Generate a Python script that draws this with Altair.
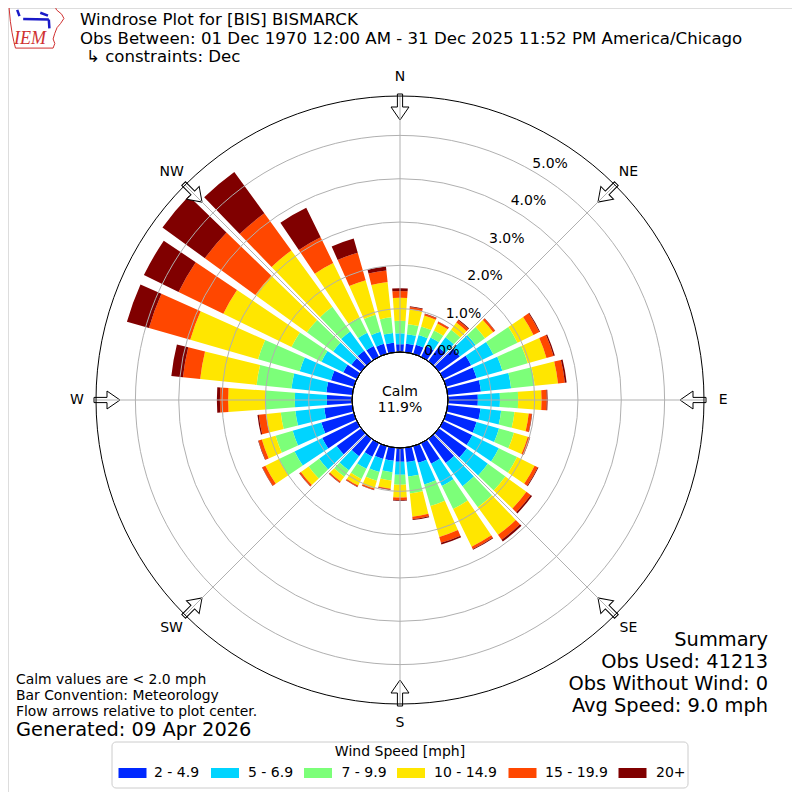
import math
import altair as alt
import pandas as pd

# ---------------- data (percent of observations) ----------------
directions = list(range(0, 360, 10))
speed_bins = ["2 - 4.9", "5 - 6.9", "7 - 9.9", "10 - 14.9", "15 - 19.9", "20+"]
bin_colors = ["#0028ff", "#00d4ff", "#7cff79", "#ffe600", "#ff4700", "#800000"]

spd_2_5 = [0.18, 0.20, 0.22, 0.28, 0.40, 0.60, 0.72, 0.73, 0.77, 0.69, 0.76, 0.73,
           0.75, 0.80, 0.69, 0.53, 0.40, 0.33, 0.32, 0.30, 0.31, 0.35, 0.50, 0.70,
           0.89, 0.78, 0.65, 0.58, 0.60, 0.55, 0.35, 0.28, 0.30, 0.28, 0.24, 0.22]
spd_5_7 = [0.25, 0.22, 0.23, 0.22, 0.28, 0.45, 0.57, 0.62, 0.70, 0.51, 0.48, 0.54,
           0.68, 0.60, 0.66, 0.57, 0.52, 0.34, 0.30, 0.27, 0.31, 0.31, 0.40, 0.50,
           0.71, 0.69, 0.67, 0.74, 0.81, 0.75, 0.56, 0.52, 0.55, 0.34, 0.29, 0.23]
spd_7_10 = [0.29, 0.23, 0.21, 0.18, 0.22, 0.27, 0.62, 0.61, 0.55, 0.42, 0.31, 0.36,
            0.47, 0.50, 0.60, 0.59, 0.52, 0.39, 0.23, 0.19, 0.21, 0.26, 0.18, 0.30,
            0.40, 0.41, 0.34, 0.68, 0.81, 1.00, 0.77, 0.75, 0.70, 0.40, 0.41, 0.36]
spd_10_15 = [0.53, 0.35, 0.26, 0.18, 0.20, 0.23, 0.41, 0.45, 0.54, 0.54, 0.33, 0.33,
             0.45, 0.60, 0.79, 0.97, 0.74, 0.54, 0.29, 0.19, 0.19, 0.17, 0.14, 0.22,
             0.35, 0.33, 0.34, 0.86, 1.31, 1.63, 1.75, 1.47, 1.61, 1.39, 0.83, 0.82]
spd_15_20 = [0.16, 0.05, 0.04, 0.04, 0.07, 0.05, 0.15, 0.17, 0.16, 0.12, 0.07, 0.05,
             0.08, 0.12, 0.14, 0.06, 0.14, 0.06, 0.06, 0.02, 0.03, 0.03, 0.03, 0.04,
             0.08, 0.08, 0.17, 0.19, 0.40, 0.99, 1.15, 1.44, 1.06, 0.66, 0.66, 0.27]
spd_20_up = [0.06, 0.02, 0.01, 0.01, 0.02, 0.01, 0.02, 0.03, 0.04, 0.02, 0.01, 0.01,
             0.02, 0.04, 0.05, 0.02, 0.04, 0.02, 0.02, 0.01, 0.01, 0.01, 0.01, 0.01,
             0.01, 0.01, 0.03, 0.07, 0.27, 0.53, 0.89, 1.21, 1.18, 0.76, 0.34, 0.09]
series = [spd_2_5, spd_5_7, spd_7_10, spd_10_15, spd_15_20, spd_20_up]

ring_values = [0, 1, 2, 3, 4, 5]
compass_deg = [0, 45, 90, 135, 180, 225, 270, 315]
compass_labels = ["N", "NE", "E", "SE", "S", "SW", "W", "NW"]
calm_pct = 11.9

title_lines = ["Windrose Plot for [BIS] BISMARCK",
               "Obs Between: 01 Dec 1970 12:00 AM - 31 Dec 2025 11:52 PM America/Chicago",
               "\u21b3 constraints: Dec"]
summary_lines = ["Summary", "Obs Used: 41213", "Obs Without Wind: 0", "Avg Speed: 9.0 mph"]
note_lines = ["Calm values are < 2.0 mph", "Bar Convention: Meteorology",
              "Flow arrows relative to plot center."]
generated_line = "Generated: 09 Apr 2026"
legend_title = "Wind Speed [mph]"

# ---------------- layout ----------------
W = H = 784
FONT = "DejaVu Sans"
R0, R1 = 48.0, 304.0        # pixel radius of 0 % and of the frame
RMAX = 5.91                 # percent value at the frame
HALF = 4.0                  # half bar opening, degrees
LABEL_R = 6.35
ARROW_R = 293.0
ARROW = "M -0.2 -1 L 0.2 -1 L 0.2 0 L 0.69 0 L 0 1 L -0.69 0 L -0.2 0 Z"

theta_scale = alt.Scale(domain=[0, 360], range=[0, 2 * math.pi])
r_scale = alt.Scale(type="linear", domain=[0, RMAX], range=[R0, R1], zero=False, nice=False)
px_x = alt.Scale(domain=[-W / 2, W / 2], range=[0, W])
px_y = alt.Scale(domain=[-H / 2, H / 2], range=[0, H])

rows = []
for i, d in enumerate(directions):
    cum = 0.0
    for j, s in enumerate(series):
        v = s[i]
        rows.append({"dir": d, "bin": speed_bins[j], "r0": cum, "r1": cum + v,
                     "t0": d - HALF, "t1": d + HALF})
        cum += v
bars_df = pd.DataFrame(rows)

bars = alt.Chart(bars_df).mark_arc().encode(
    theta=alt.Theta("t0:Q", scale=theta_scale, stack=False),
    theta2="t1:Q",
    radius=alt.Radius("r1:Q", scale=r_scale),
    radius2="r0:Q",
    color=alt.Color("bin:N", scale=alt.Scale(domain=speed_bins, range=bin_colors), legend=None),
)


def circle(values, stroke, fill_opacity=0.0, fill="white"):
    df = pd.DataFrame({"r": values, "a0": [0] * len(values), "a1": [360] * len(values)})
    return alt.Chart(df).mark_arc(fill=fill, fillOpacity=fill_opacity, stroke=stroke,
                                  strokeWidth=1).encode(
        theta=alt.Theta("a0:Q", scale=theta_scale, stack=False),
        theta2="a1:Q",
        radius=alt.Radius("r:Q", scale=r_scale),
    )


rings = circle(ring_values[1:], "#b0b0b0")
frame = circle([RMAX], "black")
calm_circle = circle([0], "black", fill_opacity=1.0)

grid_df = pd.DataFrame({
    "x0": [R0 * math.sin(math.radians(d)) for d in compass_deg],
    "y0": [-R0 * math.cos(math.radians(d)) for d in compass_deg],
    "x1": [R1 * math.sin(math.radians(d)) for d in compass_deg],
    "y1": [-R1 * math.cos(math.radians(d)) for d in compass_deg],
})
grid = alt.Chart(grid_df).mark_rule(color="#b0b0b0", strokeWidth=1).encode(
    x=alt.X("x0:Q", scale=px_x, axis=None), y=alt.Y("y0:Q", scale=px_y, axis=None),
    x2="x1:Q", y2="y1:Q",
)

arrow_df = pd.DataFrame({
    "deg": compass_deg,
    "x": [ARROW_R * math.sin(math.radians(d)) for d in compass_deg],
    "y": [-ARROW_R * math.cos(math.radians(d)) for d in compass_deg],
})
arrows = alt.Chart(arrow_df).mark_point(shape=ARROW, size=676, filled=True, fill="white",
                                        stroke="black", strokeWidth=1, opacity=1).encode(
    x=alt.X("x:Q", scale=px_x, axis=None), y=alt.Y("y:Q", scale=px_y, axis=None),
    angle=alt.Angle("deg:Q", scale=alt.Scale(domain=[0, 360], range=[0, 360])),
)

compass_df = pd.DataFrame({"deg": compass_deg, "lab": compass_labels,
                           "rl": [LABEL_R] * len(compass_deg)})
compass_text = alt.Chart(compass_df).mark_text(font=FONT, fontSize=14, color="black",
                                               align="center", baseline="middle").encode(
    theta=alt.Theta("deg:Q", scale=theta_scale, stack=False),
    radius=alt.Radius("rl:Q", scale=r_scale),
    text="lab:N",
)

ring_df = pd.DataFrame({"v": ring_values, "a": [30] * len(ring_values),
                        "lab": [f"{v:.1f}%" for v in ring_values]})
ring_text = alt.Chart(ring_df).mark_text(font=FONT, fontSize=14, color="black",
                                         align="left", baseline="bottom").encode(
    theta=alt.Theta("a:Q", scale=theta_scale, stack=False),
    radius=alt.Radius("v:Q", scale=r_scale),
    text="lab:N",
)


def label(text, x, y, size, align="left", color="black", font=FONT, style="normal"):
    return alt.Chart(pd.DataFrame({"t": [text]})).mark_text(
        font=font, fontSize=size, color=color, align=align, baseline="middle",
        fontStyle=style).encode(text="t:N", x=alt.value(x - 8), y=alt.value(y - 8))


def box(x0, y0, x1, y1, **kw):
    return alt.Chart(pd.DataFrame({"k": [0]})).mark_rect(**kw).encode(
        x=alt.value(x0 - 8), x2=alt.value(x1 - 8), y=alt.value(y0 - 8), y2=alt.value(y1 - 8))


layers = []

# logo
IOWA = ("M -0.95 -0.74 L 0.66 -0.74 L 0.72 -0.6 L 0.9 -0.45 L 0.98 -0.3 L 0.86 -0.12 "
        "L 0.74 0.02 L 0.66 0.22 L 0.6 0.42 L 0.66 0.58 L 0.6 0.74 L -0.72 0.74 L -0.78 0.5 "
        "L -0.84 0.2 L -0.9 -0.2 Z")
BLUE = ("M -0.45 -0.28 L 0.45 -0.26 M -0.66 -0.6 L -0.58 -0.38 M 0.15 -0.5 L 0.42 -0.4 "
        "M 0.45 -0.26 L 0.47 0.05")
logo_df = pd.DataFrame({"x": [36 - 400], "y": [27 - 400]})
layers.append(alt.Chart(logo_df).mark_point(shape=IOWA, size=3249, color="#d03030",
                                            strokeWidth=1, opacity=1).encode(
    x=alt.X("x:Q", scale=px_x, axis=None), y=alt.Y("y:Q", scale=px_y, axis=None)))
layers.append(alt.Chart(logo_df).mark_point(shape=BLUE, size=3249, color="#1a1ac8",
                                            strokeWidth=2.5, opacity=1).encode(
    x=alt.X("x:Q", scale=px_x, axis=None), y=alt.Y("y:Q", scale=px_y, axis=None)))
layers.append(label("IEM", 30, 39, 18, align="center", color="#d03030",
                    font="Liberation Serif", style="italic"))

layers += [bars, arrows, rings, grid, frame, calm_circle, compass_text, ring_text]
layers.append(label("Calm", 400, 392, 14, align="center"))
layers.append(label(f"{calm_pct}%", 400, 408, 14, align="center"))

# titles
layers.append(label(title_lines[0], 80, 20, 16.6))
layers.append(label(title_lines[1], 80, 38.5, 16.6))
layers.append(label(title_lines[2], 86, 57, 16.6))

# summary
for k, t in enumerate(summary_lines):
    layers.append(label(t, 768, 640 + 22 * k, 19.4, align="right"))

# notes
for k, t in enumerate(note_lines):
    layers.append(label(t, 16, 680 + 16 * k, 13.9))
layers.append(label(generated_line, 16, 730, 19.4))

# legend
layers.append(box(112, 742, 688, 788, fill="white", stroke="#cccccc", strokeWidth=1,
                  cornerRadius=4))
layers.append(label(legend_title, 400, 752, 14, align="center"))
patch_x = [118.5, 211, 304, 397, 508.5, 618.5]
text_x = [154, 248, 341.5, 434, 545, 656]
for k in range(len(speed_bins)):
    layers.append(box(patch_x[k], 768, patch_x[k] + 28, 778, fill=bin_colors[k]))
    layers.append(label(speed_bins[k], text_x[k], 773, 14))

chart = alt.layer(*layers).properties(
    width=W, height=H, autosize=alt.AutoSizeParams(type="none"), padding=0,
    background="white",
).configure_view(strokeWidth=0).configure(font=FONT)

chart.save("out.html", embed_options={"renderer": "svg", "actions": False})
